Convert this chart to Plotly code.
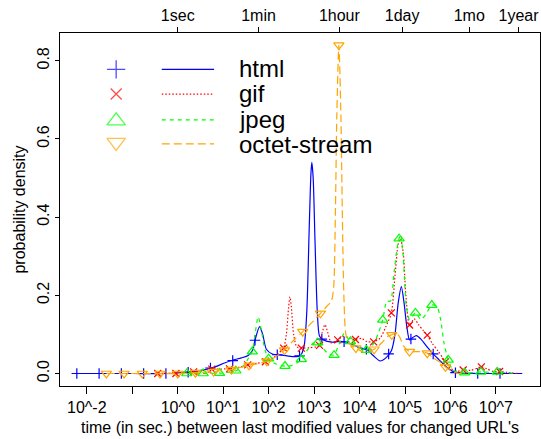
import numpy as np
import plotly.graph_objects as go

FONT = "Liberation Sans, Arial, Helvetica, sans-serif"

# ---- smoothed densities of log10(seconds) between last-modified values ----
html_logt = [-2.22, -1.0, -0.2, 0.26, 0.6, 0.8, 1.03, 1.2, 1.4, 1.55, 1.65, 1.70, 1.8, 1.87, 1.95,
             2.08, 2.3, 2.55, 2.7, 2.78, 2.84, 2.89, 2.93, 2.95, 2.98, 3.02, 3.07, 3.12, 3.2, 3.4,
             3.55, 3.7, 3.85, 4.0, 4.15, 4.3, 4.45, 4.58, 4.7, 4.78, 4.85, 4.92, 4.98, 5.04, 5.1,
             5.17, 5.25, 5.35, 5.5, 5.62, 5.75, 5.9, 6.04, 6.2, 6.6, 7.58]
html_dens = [0.0, 0.0, 0.0, 0.004, 0.01, 0.016, 0.027, 0.034, 0.04, 0.046, 0.06, 0.085, 0.12, 0.1, 0.062,
             0.05, 0.047, 0.043, 0.046, 0.07, 0.16, 0.36, 0.51, 0.54, 0.5, 0.34, 0.16, 0.095, 0.086, 0.08,
             0.082, 0.08, 0.074, 0.066, 0.062, 0.046, 0.032, 0.04, 0.058, 0.1, 0.18, 0.222, 0.18, 0.12, 0.086,
             0.092, 0.097, 0.088, 0.066, 0.05, 0.035, 0.018, 0.006, 0.001, 0.0, 0.0]
html_mark_logt = [-2.22, -1.73, -1.24, -0.75, -0.26, 0.23, 0.72, 1.21, 1.70, 2.19,
                  2.68, 3.17, 3.66, 4.15, 4.64, 5.13, 5.62, 6.11, 6.60, 7.09]
html_mark_dens = [0.0, 0.0, 0.0, 0.0, 0.0, 0.003, 0.014, 0.033, 0.085, 0.048,
                  0.045, 0.088, 0.081, 0.062, 0.05, 0.088, 0.05, 0.002, 0.0, 0.0]

gif_logt = [-0.44, 0.2, 0.5, 0.75, 1.14, 1.35, 1.54, 1.75, 1.94, 2.1, 2.25, 2.33, 2.39, 2.44, 2.47,
            2.5, 2.55, 2.62, 2.73, 2.9, 3.05, 3.12, 3.18, 3.24, 3.3, 3.38, 3.52, 3.65, 3.78, 3.91,
            4.05, 4.15, 4.31, 4.45, 4.58, 4.70, 4.78, 4.85, 4.9, 4.96, 5.02, 5.1, 5.2, 5.3, 5.4,
            5.49, 5.6, 5.73, 5.86, 6.0, 6.15, 6.29, 6.45, 6.6, 6.68, 6.8, 6.95, 7.08, 7.25, 7.48]
gif_dens = [0.0, 0.002, 0.006, 0.011, 0.012, 0.016, 0.022, 0.026, 0.03, 0.04, 0.055, 0.065, 0.1, 0.17, 0.196,
            0.17, 0.1, 0.068, 0.065, 0.066, 0.068, 0.072, 0.105, 0.125, 0.105, 0.078, 0.086, 0.095, 0.09, 0.087,
            0.09, 0.082, 0.081, 0.09, 0.12, 0.155, 0.25, 0.33, 0.345, 0.31, 0.2, 0.124, 0.14, 0.125, 0.11,
            0.098, 0.077, 0.057, 0.035, 0.013, 0.006, 0.009, 0.008, 0.014, 0.017, 0.012, 0.005, 0.005, 0.003, 0.0]
gif_mark_logt = [-0.44, -0.04, 0.35, 0.75, 1.14, 1.54, 1.93, 2.33, 2.72, 3.12,
                 3.52, 3.91, 4.31, 4.70, 5.10, 5.49, 5.89, 6.28, 6.68, 7.08]
gif_mark_dens = [0.0, 0.0, 0.004, 0.011, 0.012, 0.022, 0.03, 0.065, 0.065, 0.072,
                 0.086, 0.087, 0.081, 0.155, 0.124, 0.098, 0.03, 0.009, 0.017, 0.005]

jpeg_logt = [0.2, 0.56, 0.92, 1.1, 1.28, 1.45, 1.56, 1.64, 1.7, 1.77, 1.84, 1.92, 2.0, 2.15, 2.36,
             2.5, 2.62, 2.72, 2.85, 2.98, 3.07, 3.17, 3.3, 3.43, 3.55, 3.66, 3.79, 3.95, 4.15, 4.3,
             4.42, 4.51, 4.6, 4.68, 4.76, 4.84, 4.9, 4.96, 5.03, 5.1, 5.23, 5.35, 5.45, 5.59, 5.7,
             5.78, 5.86, 5.95, 6.06, 6.2, 6.4, 6.67, 6.9, 7.03, 7.42]
jpeg_dens = [0.0, 0.0, 0.001, 0.003, 0.007, 0.02, 0.04, 0.056, 0.1, 0.145, 0.11, 0.06, 0.038, 0.025, 0.019,
             0.02, 0.027, 0.036, 0.06, 0.077, 0.079, 0.068, 0.052, 0.047, 0.075, 0.102, 0.082, 0.068, 0.06, 0.075,
             0.105, 0.137, 0.185, 0.185, 0.26, 0.33, 0.355, 0.3, 0.17, 0.138, 0.155, 0.138, 0.15, 0.175, 0.172,
             0.14, 0.077, 0.035, 0.008, 0.002, 0.001, 0.004, 0.003, 0.004, 0.0]
jpeg_mark_logt = [0.20, 0.56, 0.92, 1.28, 1.64, 2.00, 2.36, 2.72, 3.08, 3.44,
                  3.80, 4.15, 4.51, 4.87, 5.23, 5.59, 5.95, 6.31, 6.67, 7.03]
jpeg_mark_dens = [0.0, 0.0, 0.001, 0.007, 0.056, 0.038, 0.019, 0.036, 0.079, 0.047,
                  0.082, 0.06, 0.137, 0.345, 0.155, 0.175, 0.035, 0.002, 0.004, 0.004]

octet_logt = [-1.57, -0.5, 0.0, 0.39, 0.79, 1.18, 1.57, 1.96, 2.15, 2.35, 2.55, 2.75, 2.95, 3.14, 3.28,
              3.38, 3.43, 3.47, 3.50, 3.545, 3.59, 3.62, 3.655, 3.7, 3.78, 3.92, 4.1, 4.32, 4.5, 4.62,
              4.71, 4.8, 4.88, 4.97, 5.1, 5.3, 5.49, 5.62, 5.76, 5.89, 6.02, 6.15, 6.3]
octet_dens = [0.0, 0.0, 0.0, 0.002, 0.005, 0.01, 0.021, 0.031, 0.042, 0.06, 0.085, 0.107, 0.13, 0.154, 0.172,
              0.185, 0.22, 0.42, 0.66, 0.84, 0.66, 0.42, 0.2, 0.1, 0.075, 0.065, 0.054, 0.062, 0.08, 0.095,
              0.099, 0.103, 0.094, 0.07, 0.056, 0.056, 0.052, 0.04, 0.03, 0.017, 0.006, 0.001, 0.0]
octet_mark_logt = [-1.57, -1.18, -0.78, -0.39, 0.0, 0.39, 0.79, 1.18, 1.57, 1.96,
                   2.35, 2.75, 3.14, 3.545, 3.92, 4.32, 4.71, 5.10, 5.49, 5.89]
octet_mark_dens = [0.0, 0.0, 0.0, 0.0, 0.0, 0.002, 0.005, 0.01, 0.021, 0.031,
                   0.06, 0.107, 0.154, 0.84, 0.065, 0.062, 0.099, 0.056, 0.052, 0.017]

# ---- axis labelling ----
bottom_tick_exp = [-2, -1, 0, 1, 2, 3, 4, 5, 6, 7]
bottom_tick_text = ["10^-2", "", "10^0", "10^1", "10^2", "10^3", "10^4", "10^5", "10^6", "10^7"]
top_tick_secs = [1, 60, 3600, 86400, 2592000, 31536000]
top_tick_text = ["1sec", "1min", "1hour", "1day", "1mo", "1year"]
y_ticks = [0.0, 0.2, 0.4, 0.6, 0.8]
y_tick_text = ["0.0", "0.2", "0.4", "0.6", "0.8"]

series = [
    ("html", "#0000FF", "solid", "cross-thin-open", 7.5,
     html_logt, html_dens, html_mark_logt, html_mark_dens),
    ("gif", "#FF0000", "1.5px,2px", "x-thin-open", 7,
     gif_logt, gif_dens, gif_mark_logt, gif_mark_dens),
    ("jpeg", "#00FF00", "4px,4px", "triangle-up-open", 9,
     jpeg_logt, jpeg_dens, jpeg_mark_logt, jpeg_mark_dens),
    ("octet-stream", "#FFA500", "8px,4px", "triangle-down-open", 9,
     octet_logt, octet_dens, octet_mark_logt, octet_mark_dens),
]

X_RANGE = [-2.59, 7.97]
Y_RANGE = [-0.032, 0.871]

fig = go.Figure()
for name, color, dash, sym, msize, lt, ld, mt, md in series:
    fig.add_trace(go.Scatter(
        x=10 ** np.array(lt), y=ld, mode="lines", name=name,
        line=dict(color=color, width=1.2, dash=dash, shape="spline", smoothing=0.7),
        hoverinfo="skip", showlegend=False))
    fig.add_trace(go.Scatter(
        x=10 ** np.array(mt), y=md, mode="markers", name=name,
        marker=dict(symbol=sym, size=msize, color=color, line=dict(color=color, width=1.2)),
        hoverinfo="skip", showlegend=False))

# carrier for the secondary (top) time axis
fig.add_trace(go.Scatter(x=[], y=[], xaxis="x2", yaxis="y", showlegend=False, hoverinfo="skip"))

# ---- hand-built key: symbol column, line column, label column ----
key_x_sym = 0.117
key_x_line = [0.212, 0.321]
key_x_text = 0.37
key_rows = [0.897, 0.827, 0.751, 0.690]
key_sizes = [13, 11, 16, 16]

fig.add_trace(go.Scatter(
    x=[key_x_sym] * 4, y=key_rows, xaxis="x3", yaxis="y3", mode="markers",
    marker=dict(symbol=[s[3] for s in series], size=key_sizes,
                color=[s[1] for s in series],
                line=dict(color=[s[1] for s in series], width=1.3)),
    hoverinfo="skip", showlegend=False))

text_rows = [0.8994, 0.8278, 0.7561, 0.6844]
for (name, color, dash, *_), yl, yt in zip(series, [0.897, 0.827, 0.754, 0.686], text_rows):
    fig.add_shape(type="line", xref="paper", yref="paper",
                  x0=key_x_line[0], x1=key_x_line[1], y0=yl, y1=yl,
                  line=dict(color=color, width=1.2, dash=dash))
    fig.add_annotation(text=name, xref="paper", yref="paper", x=key_x_text, y=yt,
                       xanchor="left", yanchor="middle", showarrow=False, borderpad=0,
                       font=dict(family=FONT, size=24, color="black"))

axis_font = dict(family=FONT, size=16, color="black")

fig.update_layout(
    width=541, height=439,
    margin=dict(l=60, r=1, t=33, b=53, autoexpand=False),
    paper_bgcolor="white", plot_bgcolor="white",
    font=axis_font,
    xaxis=dict(type="log", range=X_RANGE,
               tickvals=[10.0 ** e for e in bottom_tick_exp], ticktext=bottom_tick_text,
               ticks="outside", ticklen=7, tickwidth=1, tickcolor="black",
               showline=True, linecolor="black", linewidth=1, mirror=True,
               showgrid=False, zeroline=False, tickfont=axis_font, automargin=False,
               title=dict(text="time (in sec.) between last modified values for changed URL's",
                          font=axis_font, standoff=6)),
    xaxis2=dict(type="log", range=X_RANGE, overlaying="x", side="top",
                tickvals=top_tick_secs, ticktext=top_tick_text,
                ticks="outside", ticklen=5, tickwidth=1, tickcolor="black",
                showline=False, showgrid=False, zeroline=False, tickfont=axis_font,
                automargin=False),
    yaxis=dict(range=Y_RANGE, tickvals=y_ticks, ticktext=y_tick_text, tickangle=-90,
               ticks="outside", ticklen=4, tickwidth=1, tickcolor="black",
               showline=True, linecolor="black", linewidth=1, mirror=True,
               showgrid=False, zeroline=False, tickfont=axis_font, automargin=False,
               title=dict(text="probability density", font=axis_font, standoff=4)),
    xaxis3=dict(overlaying="x", range=[0, 1], visible=False, fixedrange=True),
    yaxis3=dict(overlaying="y", range=[0, 1], visible=False, fixedrange=True),
    showlegend=False,
)

fig.write_html("out.html")
